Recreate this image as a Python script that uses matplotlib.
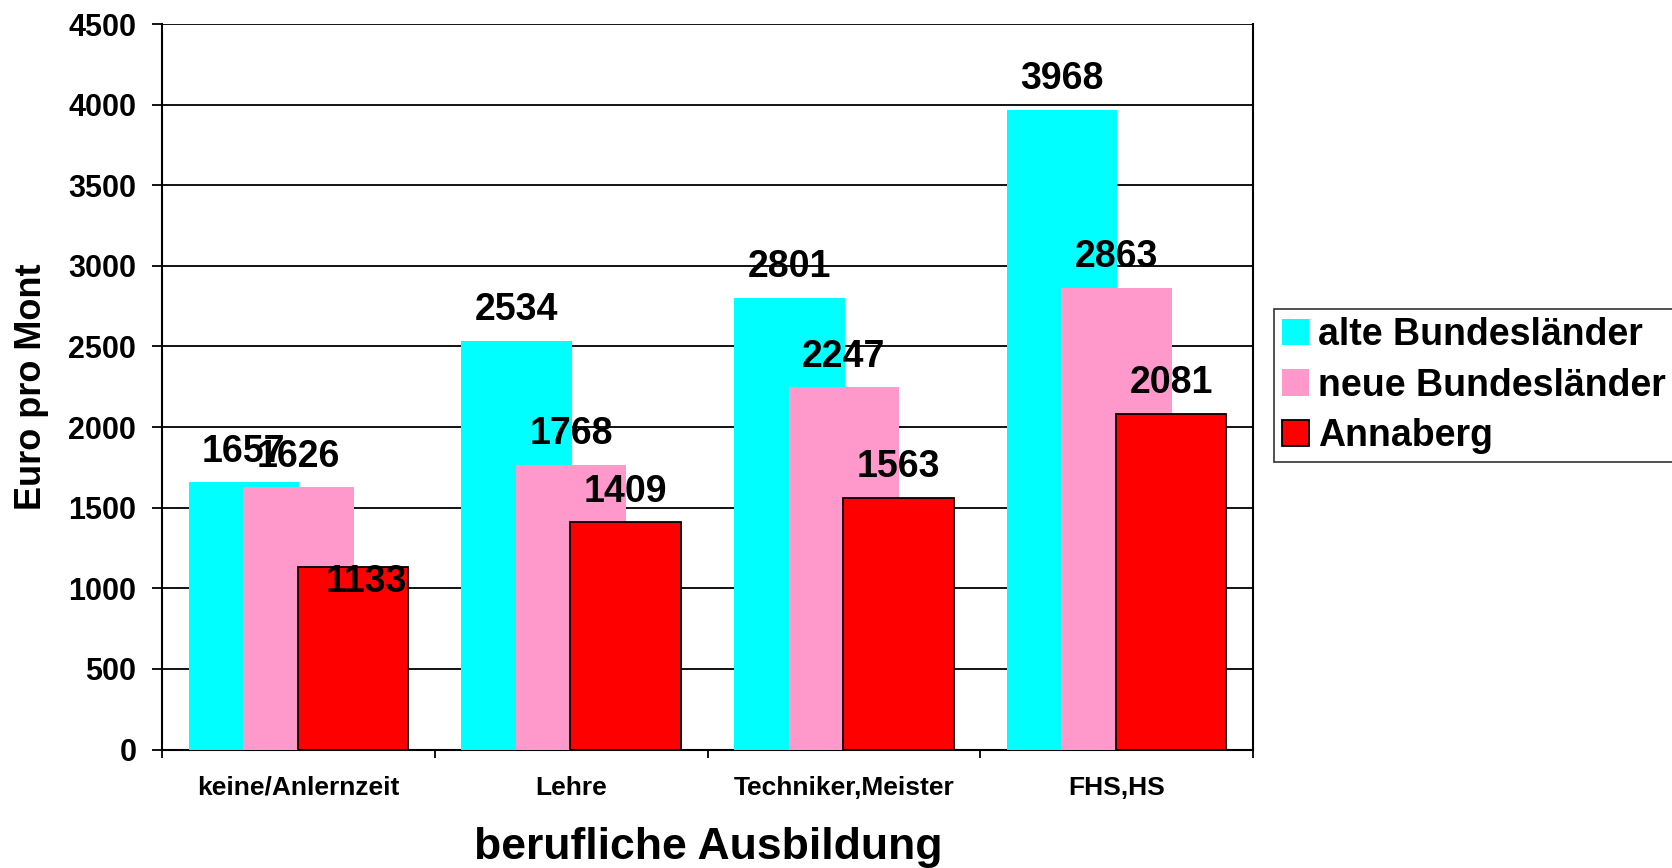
import matplotlib
matplotlib.use("Agg")
import matplotlib.pyplot as plt
import numpy as np
from matplotlib.patches import Patch

plt.rcParams['font.family'] = ['Liberation Sans', 'DejaVu Sans']
plt.rcParams['font.weight'] = 'bold'

categories = ["keine/Anlernzeit", "Lehre", "Techniker,Meister", "FHS,HS"]
series_names = ["alte Bundesländer", "neue Bundesländer", "Annaberg"]
alte = [1657, 2534, 2801, 3968]
neue = [1626, 1768, 2247, 2863]
annaberg = [1133, 1409, 1563, 2081]
y_ticks = [0, 500, 1000, 1500, 2000, 2500, 3000, 3500, 4000, 4500]

colors = ["#00FFFF", "#FF99CC", "#FF0000"]
edges = ["none", "none", "black"]

W, H = 1672, 868
fig = plt.figure(figsize=(W / 100, H / 100), dpi=100)
ax = fig.add_axes([162 / W, 1 - 749.6 / H, (1253 - 162) / W, (749.6 - 24) / H])

x = np.arange(len(categories))
offsets = [-0.2, 0.0, 0.2]
width = 0.405
all_series = [alte, neue, annaberg]

# per-label (dx, dy) offsets in points for label placement; default above bar
label_shift = {(2, 0): (9.5, -33.0)}

for si, (vals, col, ec, off) in enumerate(zip(all_series, colors, edges, offsets)):
    lw = 1.3 if ec != "none" else 0
    ax.bar(x + off, vals, width=width, color=col, edgecolor=ec, linewidth=lw,
           zorder=3 + si)
    for ci, v in enumerate(vals):
        dx, dy = label_shift.get((si, ci), (0, 0))
        ax.annotate(str(v), (x[ci] + off, v), xytext=(dx, 22.0 + dy),
                    textcoords="offset points", ha="center", va="center",
                    fontsize=27, fontweight="bold", zorder=10)

ax.set_xlim(-0.5, len(categories) - 0.5)
ax.set_ylim(0, 4500)
ax.set_yticks(y_ticks)
ax.set_yticklabels([str(t) for t in y_ticks], fontsize=22, fontweight="bold")
ax.yaxis.grid(True, color="black", linewidth=1.3, zorder=0)
ax.set_axisbelow(True)

ax.set_xticks(x)
ax.set_xticklabels(categories, fontsize=19, fontweight="bold")
ax.set_xticks(np.arange(-0.5, len(categories), 1.0), minor=True)
ax.tick_params(axis="x", which="major", length=0, pad=19)
ax.tick_params(axis="x", which="minor", length=6, width=1.3, color="black")
ax.tick_params(axis="y", which="major", length=7.5, width=1.3, pad=11)

for s in ax.spines.values():
    s.set_linewidth(1.5)
    s.set_color("black")
ax.spines["top"].set_visible(False)

fig.text(32 / W, 1 - 387 / H, "Euro pro Mont", rotation=90, ha="center",
         va="center", fontsize=26, fontweight="bold")
fig.text(708 / W, 1 - 848 / H, "berufliche Ausbildung", ha="center",
         va="center", fontsize=32, fontweight="bold")

handles = [Patch(facecolor=c, edgecolor=(e if e != "none" else c),
                 linewidth=(1.3 if e != "none" else 0)) for c, e in zip(colors, edges)]
leg = fig.legend(handles, series_names, loc="upper left",
                 bbox_to_anchor=(1274 / W, 1 - 309 / H), fontsize=27,
                 frameon=True, fancybox=False, edgecolor="black",
                 handlelength=0.7, handleheight=0.7, handletextpad=0.25,
                 labelspacing=0.38, borderpad=0.22, borderaxespad=0)
leg.get_frame().set_linewidth(1.2)
for t in leg.get_texts():
    t.set_fontweight("bold")

fig.savefig("out.png", dpi=100)
